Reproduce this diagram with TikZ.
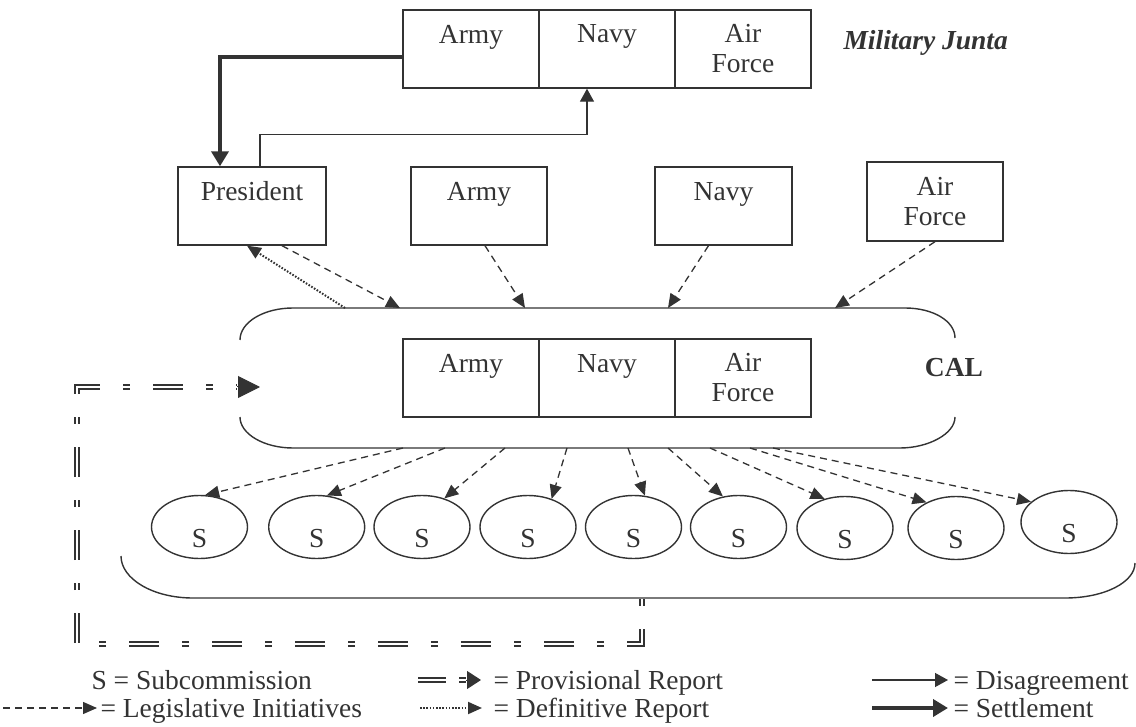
\documentclass[tikz,border=0pt]{standalone}
\usepackage{fontspec}
\setmainfont{Liberation Serif}
\usetikzlibrary{arrows.meta, shapes.geometric}
\definecolor{ink}{HTML}{333333}
\newcommand{\bigfont}{\fontsize{27.5}{30}\selectfont}
\tikzset{
  line/.style={draw=ink, line width=1.4pt},
  unit/.style={draw=ink, line width=1.4pt, minimum width=136pt, minimum height=78pt, inner sep=0pt, align=center, execute at begin node={\rule{0pt}{27pt}}},
  sub/.style={ellipse, draw=ink, line width=1.4pt, minimum width=96pt, minimum height=63pt, inner sep=0pt, text height=41pt, text depth=0pt},
  init/.style={draw=ink, line width=1.3pt, dash pattern=on 7pt off 5pt, -{Triangle[length=14pt,width=12pt]}},
  defin/.style={draw=ink, line width=2pt, dash pattern=on 1.6pt off 1.6pt, -{Triangle[length=14pt,width=12pt]}},
  disagree/.style={draw=ink, line width=1.3pt, -{Triangle[length=13pt,width=14pt]}},
  settle/.style={draw=ink, line width=4.5pt, -{Triangle[length=15pt,width=17pt]}},
  prov/.style={draw=ink, line width=1.6pt, double, double distance=2.6pt},
  provtip/.style={draw=ink, line width=1pt, -{Triangle[length=22pt,width=22pt]}}
}
\begin{document}
\begin{tikzpicture}[x=1pt, y=-1pt, font=\bigfont, text=ink]
\useasboundingbox (0,0) rectangle (1136,727);

% military junta
\node[unit] (ja) at (471,49) {Army\\\mbox{}};
\node[unit] (jn) at (607,49) {Navy\\\mbox{}};
\node[unit] (jf) at (743,49) {Air\\Force};
\node[anchor=base west, font=\bigfont\bfseries\itshape] (mj) at (840,50) {Military Junta};

% president and the three forces
\node[unit, minimum width=148pt] (pres) at (252,206) {President\\\mbox{}};
\node[unit] (army) at (479,206) {Army\\\mbox{}};
\node[unit, minimum width=137pt] (navy) at (723.5,206) {Navy\\\mbox{}};
\node[unit, minimum height=79pt] (air) at (935,201.5) {Air\\Force};

\draw[settle] ([yshift=-8pt]ja.west) -| ([xshift=-32pt]pres.north);
\draw[disagree] ([xshift=8pt]pres.north) -- ++(0,-32) -| ([xshift=-20pt]jn.south);

% CAL
\draw[line] (240,340) .. controls (240,322) and (264,308) .. (293,308) -- (905,308) .. controls (933,308) and (955,321) .. (955,338);
\draw[line] (240,417) .. controls (240,434) and (264,448) .. (293,448) -- (900,448) .. controls (928,448) and (955,434) .. (955,417);
\node[unit] (ca) at (471,378) {Army\\\mbox{}};
\node[unit] (cn) at (607,378) {Navy\\\mbox{}};
\node[unit] (cf) at (743,378) {Air\\Force};
\node[anchor=base, font=\bigfont\bfseries] (cal) at (954,377) {CAL};

\coordinate (td) at (345,308);
\coordinate (t1) at (400,308);
\coordinate (t2) at (525,308);
\coordinate (t3) at (668,308);
\coordinate (t4) at (835,308);
\draw[init] ([xshift=30pt]pres.south) -- (t1);
\draw[defin] (td) -- ([xshift=-5pt]pres.south);
\draw[init] ([xshift=6pt]army.south) -- (t2);
\draw[init] ([xshift=-15pt]navy.south) -- (t3);
\draw[init] (air.south) -- (t4);

% subcommissions
\foreach \i/\x/\y/\s/\a in {1/199.5/527/403/80, 2/316.7/527/445/72, 3/422/527/505/52,
  4/528/527/567/50, 5/633.5/527/628/70, 6/738.5/527/668/117, 7/845/528/710/125,
  8/956/528/750/139, 9/1069/522/773/152}{
  \node[sub] (s\i) at (\x,\y) {S};
  \coordinate (b\i) at (\s,448);
  \draw[init] (b\i) -- (s\i.\a);
}
\draw[line] (121,556) .. controls (121,579) and (153,598) .. (193,598) -- (1065,598) .. controls (1105,598) and (1135,582) .. (1135,563);

% provisional report back to CAL
\coordinate (r0) at (642,598);
\coordinate (pv) at (237,387);
\coordinate (calw) at (260,387);
\draw[prov, dash pattern=on 30pt off 23pt on 7pt off 23pt, dash phase=52pt] (r0) -- (642,644) -- (77,644) -- (77,387) -- (pv);
\draw[provtip] (pv) -- (calw);

% legend
\node[anchor=base west] (lsub) at (88,689) {S = Subcommission};
\coordinate (li0) at (3,708);
\coordinate (li1) at (97,708);
\draw[init] (li0) -- (li1);
\node[anchor=base west] (lini) at (97,717) {= Legislative Initiatives};

\coordinate (lp0) at (418,680);
\coordinate (lp1) at (466,680);
\coordinate (lp2) at (481,680);
\draw[prov, dash pattern=on 28pt off 13pt on 7pt off 50pt] (lp0) -- (lp1);
\draw[draw=ink, line width=1pt, -{Triangle[length=14pt,width=18pt]}] (lp1) -- (lp2);
\node[anchor=base west] (lprov) at (490,689) {= Provisional Report};

\coordinate (ld0) at (420,708);
\coordinate (ld1) at (482,708);
\draw[defin] (ld0) -- (ld1);
\node[anchor=base west] (ldef) at (490,717) {= Definitive Report};

\coordinate (lg0) at (872,680);
\coordinate (lg1) at (948,680);
\draw[disagree] (lg0) -- (lg1);
\node[anchor=base west] (ldis) at (950,689) {= Disagreement};

\coordinate (ls0) at (872,708);
\coordinate (ls1) at (948,708);
\draw[settle] (ls0) -- (ls1);
\node[anchor=base west] (lset) at (950,717) {= Settlement};
\end{tikzpicture}
\end{document}
